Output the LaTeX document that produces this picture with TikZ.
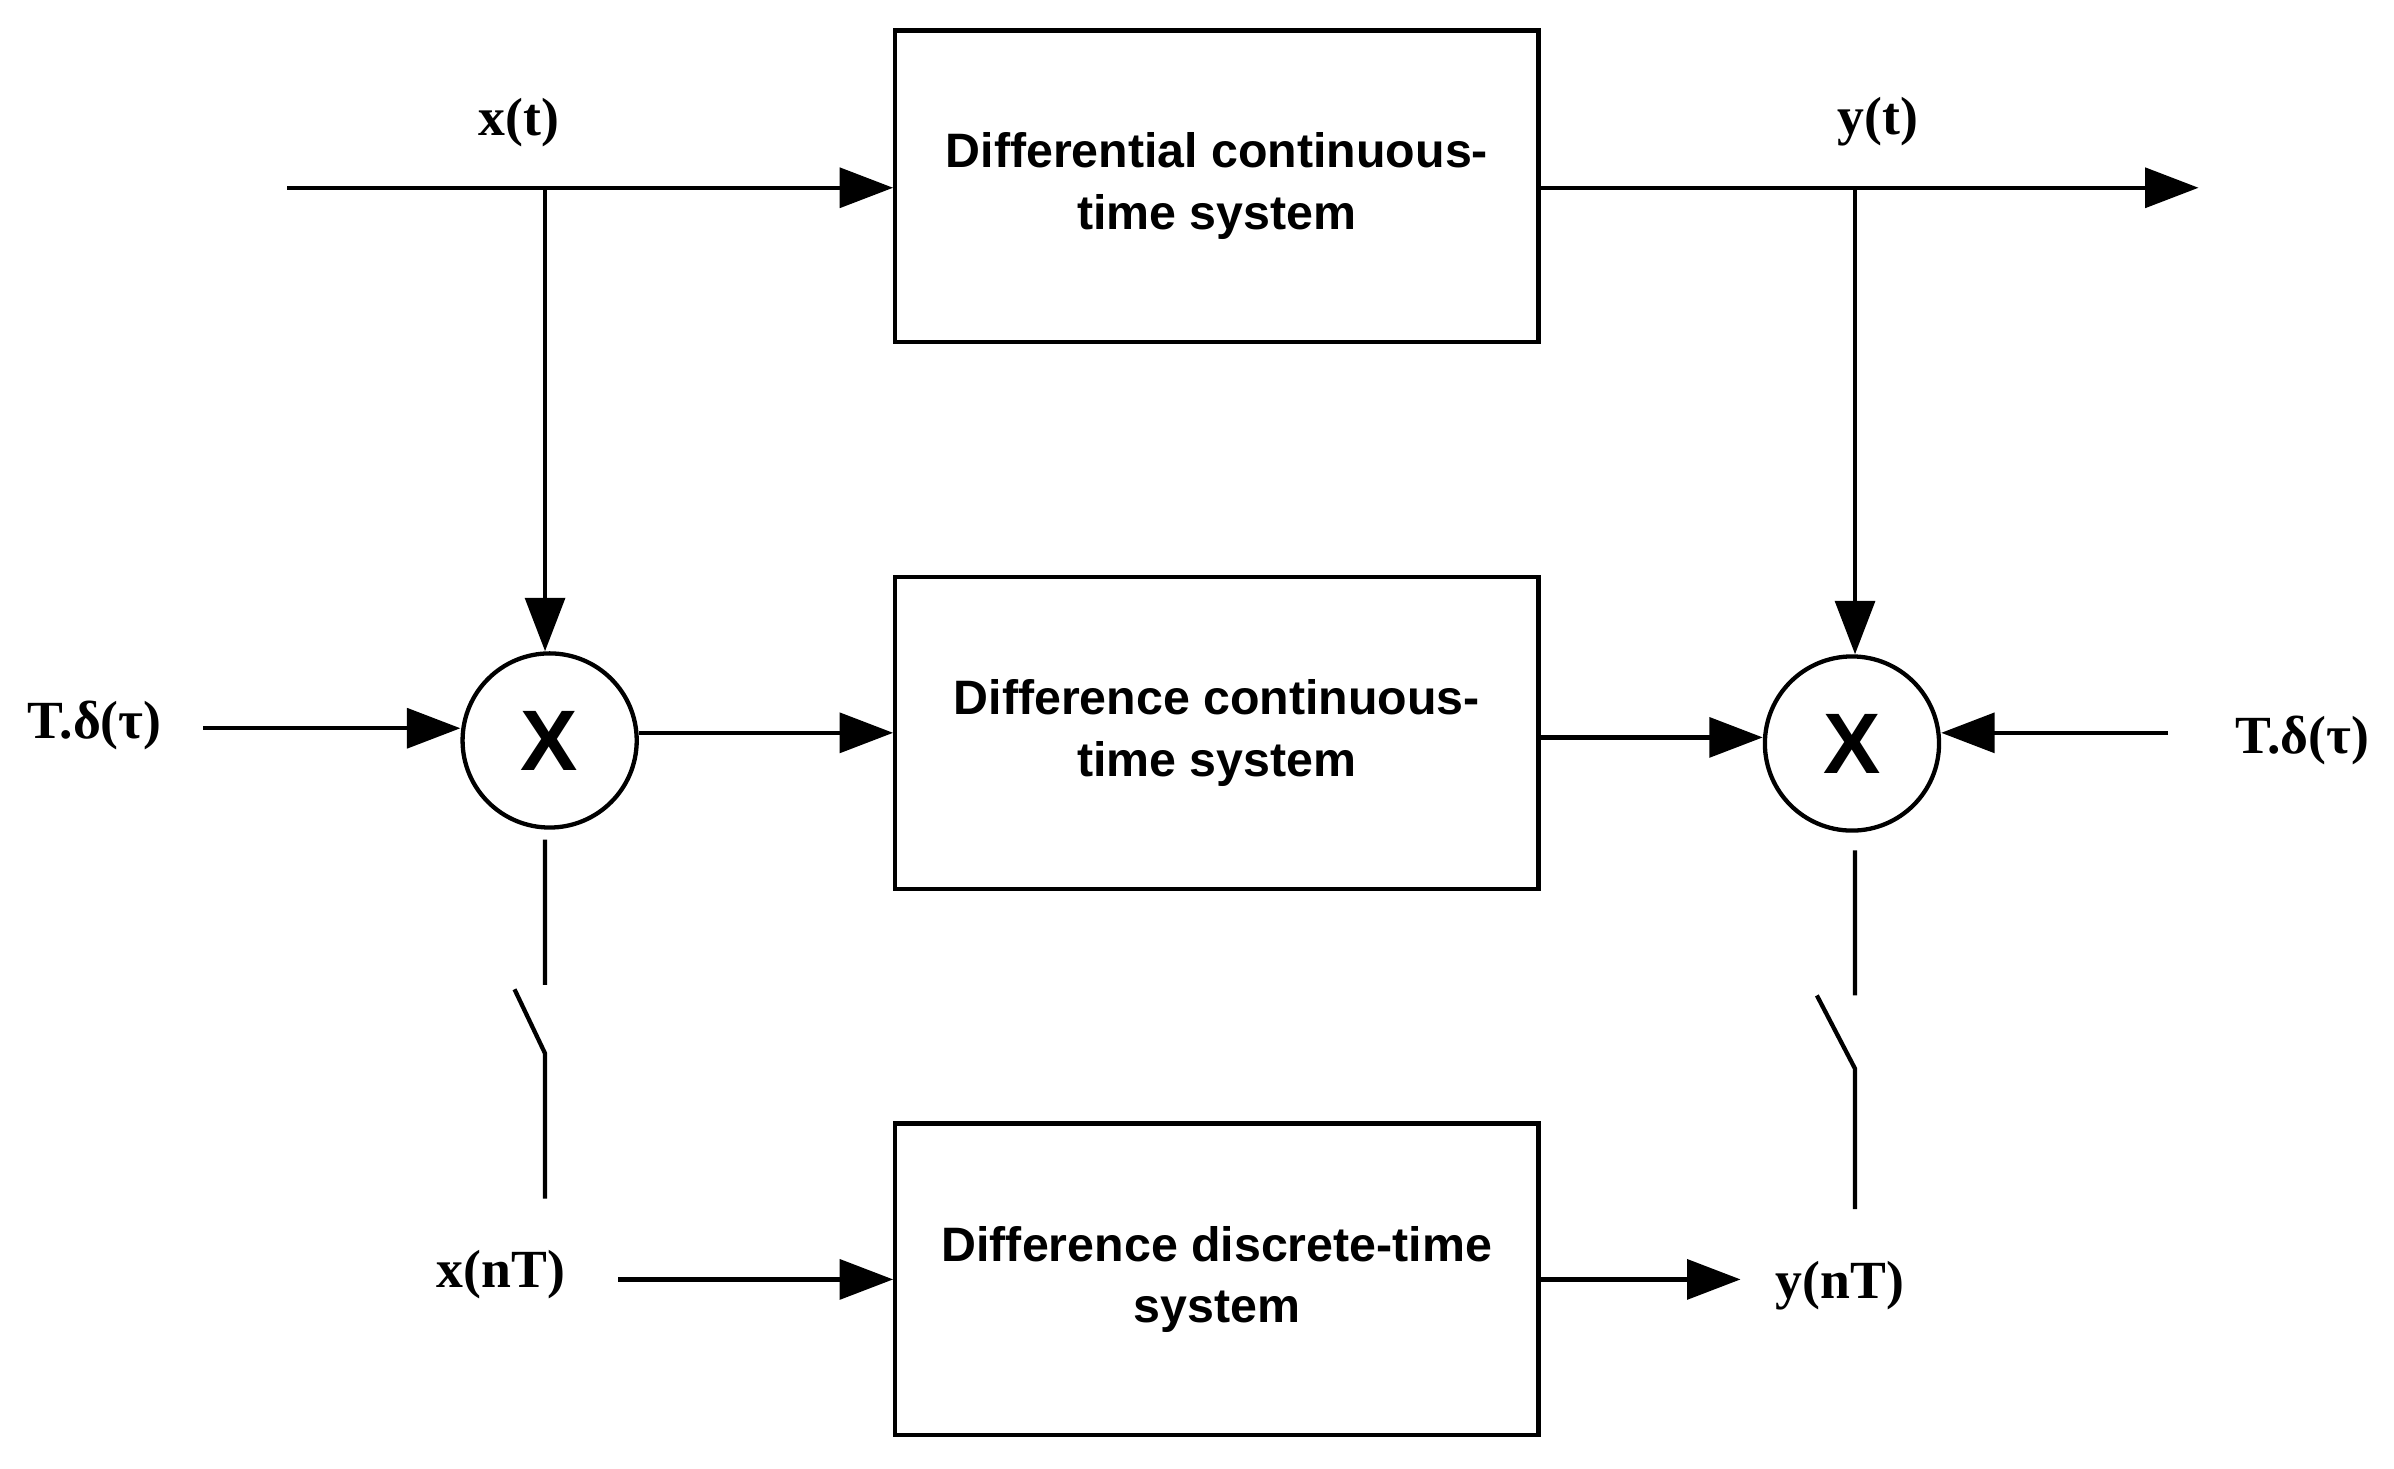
\documentclass[tikz,border=0pt]{standalone}
\usepackage{fontspec}
\setmainfont{Liberation Serif}
\newfontfamily\boxfont{Liberation Sans}
\usetikzlibrary{arrows.meta,positioning}
\begin{document}
\begin{tikzpicture}[x=0.01cm, y=-0.01cm,
  sysbox/.style={draw, thick, minimum width=4.21cm, minimum height=2.04cm, align=center, font=\boxfont\bfseries\fontsize{9}{11.5}\selectfont},
  mulnode/.style={circle, draw, thick, minimum size=1.14cm, font=\boxfont\bfseries\fontsize{16}{16}\selectfont},
  sig/.style={font=\bfseries\fontsize{10}{12}\selectfont},
  arr/.style={thick, -{Triangle[length=3.5mm, width=2.6mm]}}, ]
  \useasboundingbox (0,0) rectangle (1568,962);

  \node[sysbox] (b1) at (797,122) {Differential continuous-\\time system};
  \node[sysbox] (b2) at (797,480) {Difference continuous-\\time system};
  \node[sysbox] (b3) at (797,838) {Difference discrete-time\\system};
  \node[mulnode] (m1) at (360,485) {X};
  \node[mulnode] (m2) at (1213,487) {X};

  \node[sig] (xt) at (340,80) {x(t)};
  \node[sig] (yt) at (1230,80) {y(t)};
  \node[sig] (tl) at (62,475) {T.δ(τ)};
  \node[sig] (tr) at (1508,485) {T.δ(τ)};
  \node[sig] (xn) at (328,835) {x(nT)};
  \node[sig] (yn) at (1205,842) {y(nT)};

  \coordinate (in) at (188,123);
  \coordinate (out) at (1440,123);
  \coordinate (j1) at (357,123);
  \coordinate (j2) at (1215,123);

  \draw[arr] (in) -- (b1.west |- in);
  \draw[arr] (b1.east |- out) -- (out);
  \draw[arr] (j1) -- (m1.north -| j1);
  \draw[arr] (j2) -- (m2.north -| j2);
  \draw[arr] (133,477) -- (m1.west |- 0,477);
  \draw[arr] (m1.east |- 0,480) -- (b2.west |- 0,480);
  \draw[arr] (b2.east |- 0,483) -- (m2.west |- 0,483);
  \draw[arr] (1420,480) -- (m2.east |- 0,480);
  \draw[arr] (405,838) -- (b3.west |- 0,838);
  \draw[arr] (b3.east |- 0,838) -- (1140,838);

  % switches
  \draw[thick] (357,550) -- (357,645) (337,648) -- (357,690) -- (357,785);
  \draw[thick] (1215,557) -- (1215,652) (1190,652) -- (1215,700) -- (1215,792);
\end{tikzpicture}
\end{document}
